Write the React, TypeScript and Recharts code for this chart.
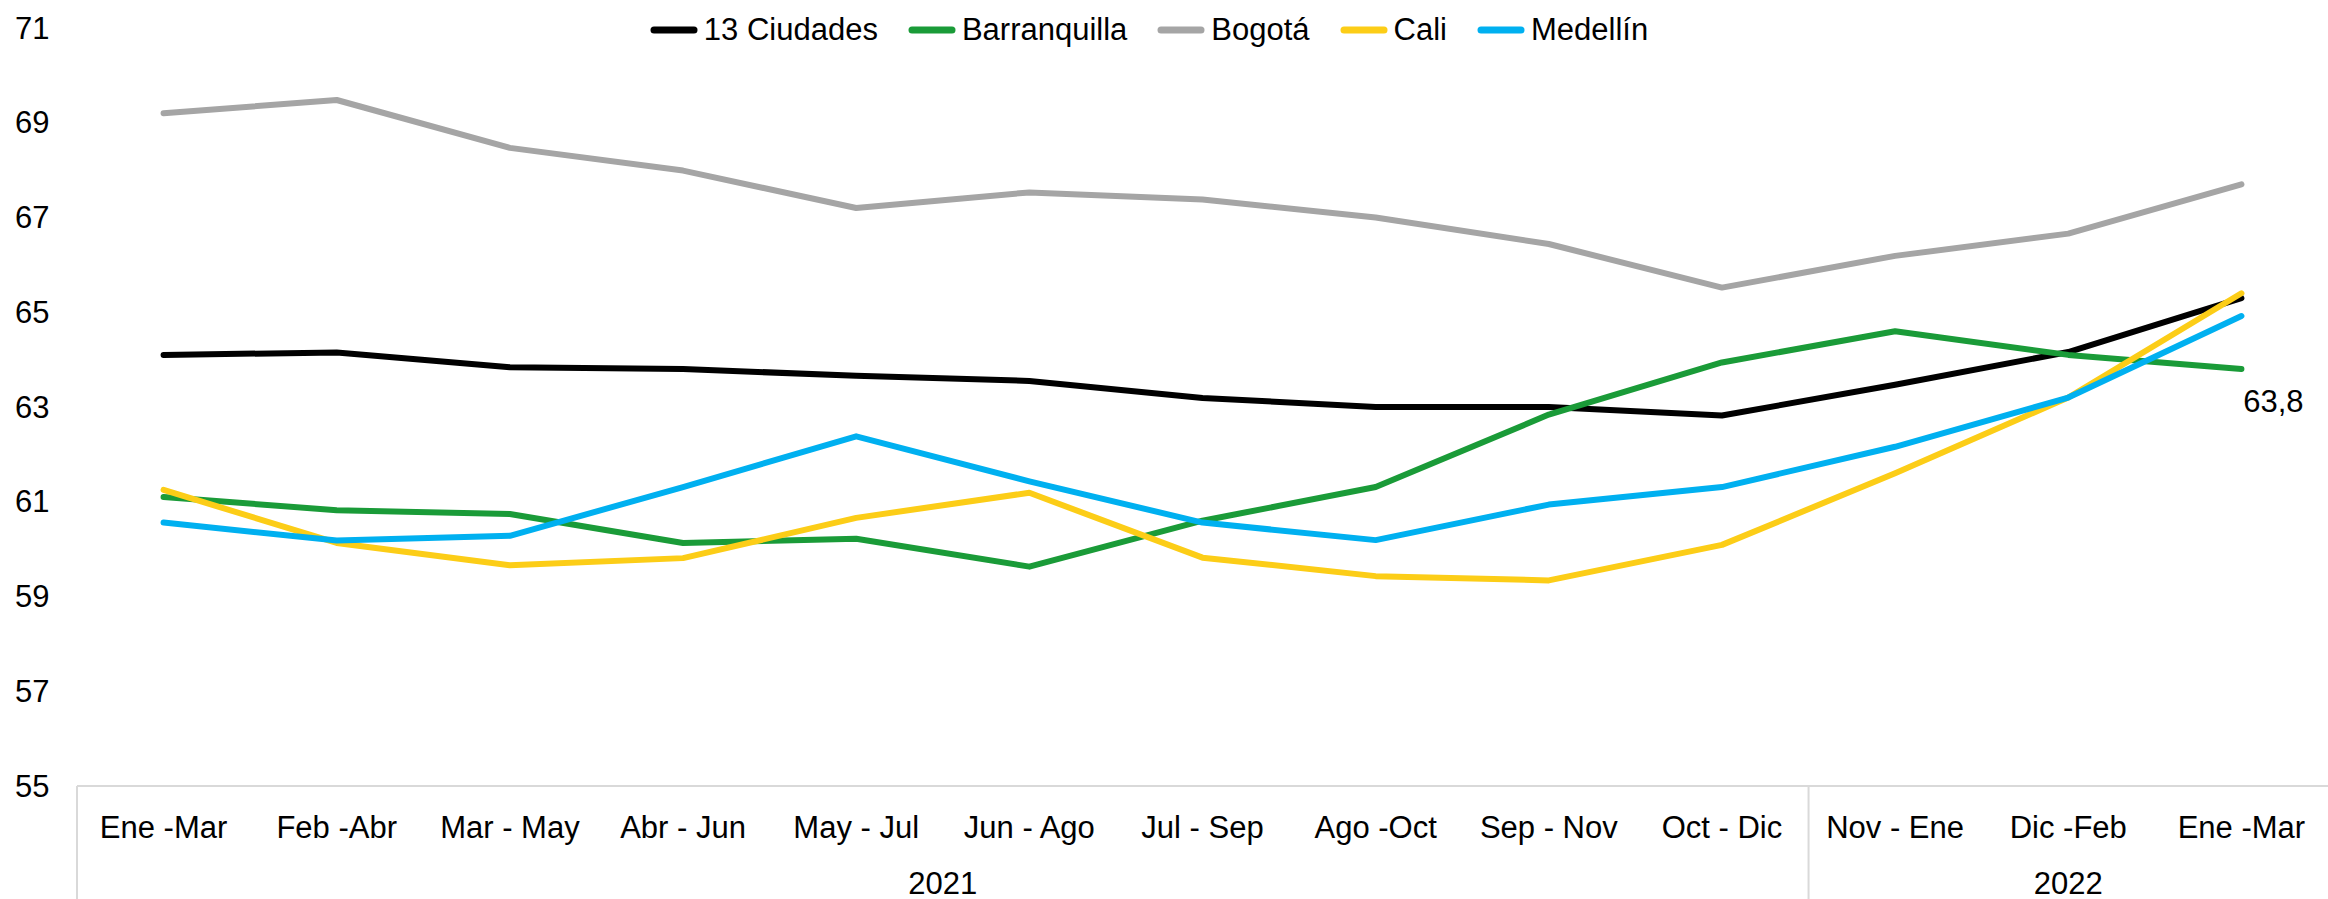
import { LineChart, Line, XAxis, YAxis, Legend, LabelList } from 'recharts';

const categories = [
  'Ene -Mar', 'Feb -Abr', 'Mar - May', 'Abr - Jun', 'May - Jul', 'Jun - Ago',
  'Jul - Sep', 'Ago -Oct', 'Sep - Nov', 'Oct - Dic', 'Nov - Ene', 'Dic -Feb', 'Ene -Mar',
];

const yearGroups = [
  { label: '2021', count: 10 },
  { label: '2022', count: 3 },
];

const ciudades13 = [64.1, 64.15, 63.84, 63.8, 63.66, 63.55, 63.19, 63.0, 63.0, 62.82, 63.47, 64.16, 65.3];
const barranquilla = [61.1, 60.82, 60.74, 60.13, 60.22, 59.63, 60.6, 61.31, 62.84, 63.94, 64.6, 64.1, 63.8];
const bogota = [69.2, 69.48, 68.47, 67.99, 67.2, 67.53, 67.38, 67.0, 66.44, 65.52, 66.19, 66.66, 67.7];
const cali = [61.25, 60.13, 59.66, 59.81, 60.66, 61.19, 59.82, 59.43, 59.34, 60.09, 61.6, 63.2, 65.4];
const medellin = [60.56, 60.18, 60.28, 61.31, 62.38, 61.43, 60.56, 60.19, 60.94, 61.31, 62.16, 63.2, 64.92];

const yTicks = [55, 57, 59, 61, 63, 65, 67, 69, 71];

const series = [
  { key: 'c13', name: '13 Ciudades', color: '#000000', values: ciudades13 },
  { key: 'baq', name: 'Barranquilla', color: '#1a9b38', values: barranquilla },
  { key: 'bog', name: 'Bogotá', color: '#a5a5a5', values: bogota },
  { key: 'cali', name: 'Cali', color: '#fccd17', values: cali },
  { key: 'med', name: 'Medellín', color: '#00b0f0', values: medellin },
];

const data = categories.map((cat, i) => {
  const row: Record<string, string | number> = { idx: i, cat };
  series.forEach((s) => { row[s.key] = s.values[i]; });
  return row;
});

const W = 2328;
const H = 899;
const Y_AXIS_W = 77;
const PLOT_W = W - Y_AXIS_W;
const BAND = PLOT_W / categories.length;
const FONT = '"Liberation Sans", Arial, sans-serif';

const groupStarts = yearGroups.map((g, i) => ({
  ...g,
  start: yearGroups.slice(0, i).reduce((a, b) => a + b.count, 0),
}));

function CategoryTick(props: any) {
  const { x, y, payload } = props;
  const i = Number(payload.value);
  const group = groupStarts.find((g) => g.start === i);
  return (
    <g>
      <text x={x} y={y + 41} textAnchor="middle" dominantBaseline="central"
        fontSize={31} fontFamily={FONT} fill="#000">{categories[i]}</text>
      {group && (
        <>
          <line x1={x - BAND / 2} x2={x - BAND / 2} y1={y} y2={H} stroke="#d9d9d9" strokeWidth={2} />
          <text x={x - BAND / 2 + (group.count * BAND) / 2} y={y + 97} textAnchor="middle"
            dominantBaseline="central" fontSize={31} fontFamily={FONT} fill="#000">{group.label}</text>
        </>
      )}
    </g>
  );
}

function ValueTick(props: any) {
  const { y, payload } = props;
  return (
    <text x={15} y={y} textAnchor="start" dominantBaseline="central"
      fontSize={31} fontFamily={FONT} fill="#000">{payload.value}</text>
  );
}

function LastLabel(props: any) {
  const { x, y, value, index } = props;
  if (index !== categories.length - 1) return null;
  return (
    <text x={x + 32} y={y + 32} textAnchor="middle" dominantBaseline="central"
      fontSize={31} fontFamily={FONT} fill="#000">{String(value).replace('.', ',')}</text>
  );
}

function LegendContent() {
  return (
    <div style={{ display: 'flex', justifyContent: 'center', alignItems: 'center', fontFamily: FONT, fontSize: 31 }}>
      {series.map((s) => (
        <div key={s.key} style={{ display: 'flex', alignItems: 'center', marginRight: 30 }}>
          <svg width={48} height={10} style={{ marginRight: 6 }}>
            <line x1={4} x2={44} y1={5} y2={5} stroke={s.color} strokeWidth={7} strokeLinecap="round" />
          </svg>
          <span>{s.name}</span>
        </div>
      ))}
    </div>
  );
}

export default function App() {
  return (
    <div style={{ position: 'absolute', left: 0, top: 0, width: W, height: H, background: '#fff' }}>
      <LineChart width={W} height={H} data={data} margin={{ top: 28, right: 0, left: 0, bottom: 0 }}>
        <XAxis
          dataKey="idx"
          type="category"
          interval={0}
          height={113}
          padding={{ left: BAND / 2, right: BAND / 2 }}
          tickLine={false}
          tickSize={0}
          tickMargin={0}
          axisLine={{ stroke: '#d9d9d9', strokeWidth: 2 }}
          tick={<CategoryTick />}
        />
        <YAxis
          domain={[55, 71]}
          ticks={yTicks}
          width={Y_AXIS_W}
          axisLine={false}
          tickLine={false}
          tick={<ValueTick />}
        />
        <Legend
          verticalAlign="middle"
          align="center"
          content={<LegendContent />}
          wrapperStyle={{ top: 12, left: 0, width: W }}
        />
        {series.map((s) => (
          <Line
            key={s.key}
            dataKey={s.key}
            name={s.name}
            stroke={s.color}
            strokeWidth={6}
            strokeLinecap="round"
            strokeLinejoin="round"
            dot={false}
            activeDot={false}
            isAnimationActive={false}
          >
            {s.key === 'baq' && <LabelList dataKey={s.key} content={<LastLabel />} />}
          </Line>
        ))}
      </LineChart>
    </div>
  );
}
